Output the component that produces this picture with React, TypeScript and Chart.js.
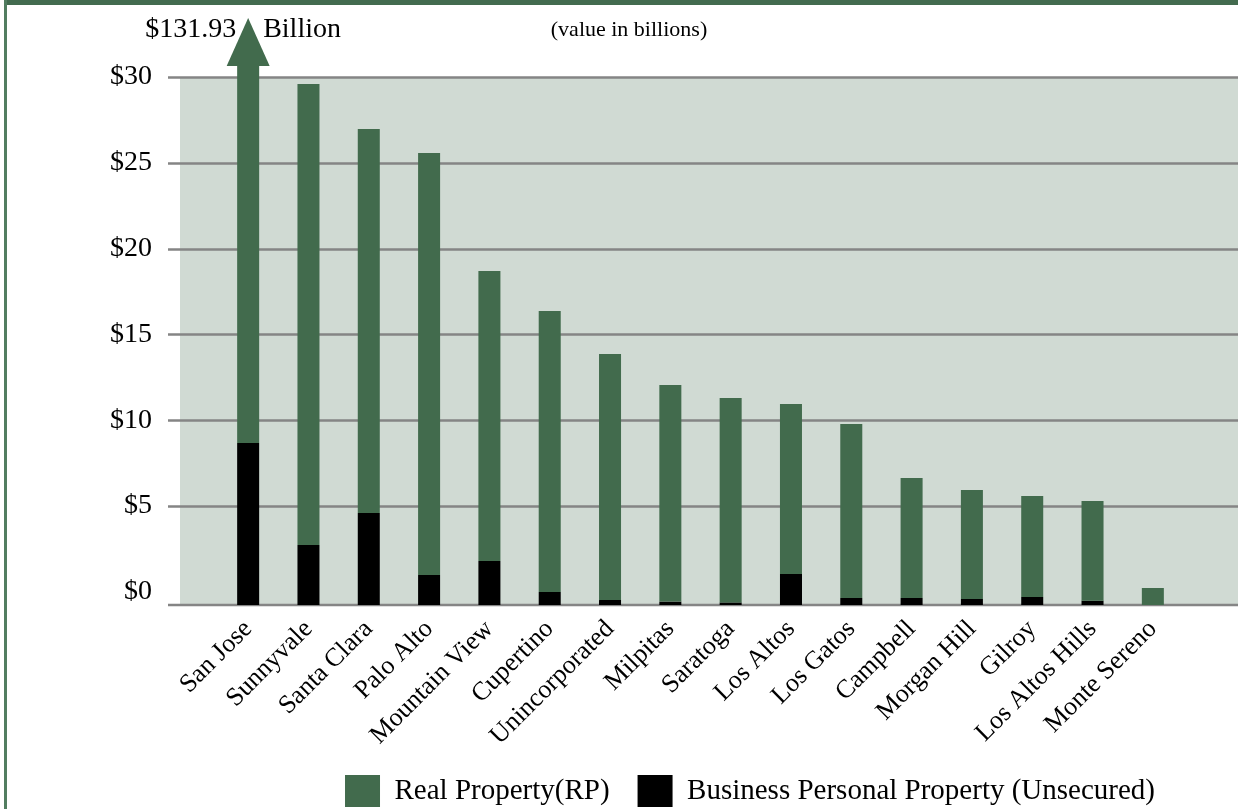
import React, { useEffect, useRef } from 'react';
import { Chart, registerables } from 'chart.js';

Chart.register(...registerables);

// ---- data (values in billions of dollars) ----
const cities = [
  'San Jose', 'Sunnyvale', 'Santa Clara', 'Palo Alto', 'Mountain View', 'Cupertino',
  'Unincorporated', 'Milpitas', 'Saratoga', 'Los Altos', 'Los Gatos', 'Campbell',
  'Morgan Hill', 'Gilroy', 'Los Altos Hills', 'Monte Sereno',
];
const businessPersonal = [
  9.44, 3.5, 5.36, 1.75, 2.56, 0.76, 0.29, 0.2, 0.15, 1.81, 0.41, 0.41, 0.35, 0.47, 0.25, 0,
];
const realProperty = [
  122.49, 26.85, 22.37, 24.58, 16.9, 16.37, 14.33, 12.62, 11.91, 9.9, 10.13, 6.99, 6.35, 5.88, 5.81, 0.99,
];
const yTickValues = [0, 5, 10, 15, 20, 25, 30];
const seriesNames = ['Real Property(RP)', 'Business Personal Property (Unsecured)'];
const overflowLabel = ['$131.93', 'Billion'];
const unitNote = '(value in billions)';
// bars in the original graphic start slightly below the "$0" tick line
const AXIS_FLOOR = -0.76;
const AXIS_MAX = 30;

const GREEN = '#426b4d';
const FONT = '"Liberation Serif", "Times New Roman", serif';

const decorPlugin = {
  id: 'decor',
  beforeDatasetsDraw(chart: any) {
    const { ctx, chartArea, scales, width } = chart;
    const y = scales.y;
    const top = y.getPixelForValue(AXIS_MAX);
    const bottom = y.getPixelForValue(AXIS_FLOOR);
    const bgLeft = chartArea.left - 38;
    ctx.save();
    ctx.fillStyle = '#d0dad3';
    ctx.fillRect(bgLeft, top, width - bgLeft, bottom - top);
    ctx.strokeStyle = '#858585';
    ctx.lineWidth = 2.5;
    yTickValues.forEach((v) => {
      if (v <= 0) return;
      const py = Math.round(y.getPixelForValue(v)) + 0.5;
      ctx.beginPath();
      ctx.moveTo(bgLeft - 12, py);
      ctx.lineTo(width, py);
      ctx.stroke();
    });
    ctx.beginPath();
    ctx.moveTo(bgLeft - 12, bottom);
    ctx.lineTo(width, bottom);
    ctx.stroke();
    ctx.restore();
  },
  afterDatasetsDraw(chart: any) {
    const { ctx, chartArea } = chart;
    const el = chart.getDatasetMeta(0).data[0];
    if (!el) return;
    const cx = el.x;
    const baseY = chartArea.top - 11;
    const tipY = chartArea.top - 59;
    ctx.save();
    ctx.fillStyle = '#000';
    ctx.font = `28px ${FONT}`;
    ctx.textBaseline = 'alphabetic';
    ctx.textAlign = 'right';
    ctx.fillText(overflowLabel[0], cx - 12, chartArea.top - 40);
    ctx.textAlign = 'left';
    ctx.fillText(overflowLabel[1], cx + 15, chartArea.top - 40);
    ctx.fillStyle = GREEN;
    ctx.beginPath();
    ctx.moveTo(cx - 21.5, baseY);
    ctx.lineTo(cx, tipY);
    ctx.lineTo(cx + 21.5, baseY);
    ctx.closePath();
    ctx.fill();
    ctx.fillStyle = '#000';
    ctx.font = `22px ${FONT}`;
    ctx.textAlign = 'center';
    ctx.textBaseline = 'middle';
    ctx.fillText(unitNote, 629, chartArea.top - 47);
    ctx.restore();
  },
};

export default function App() {
  const ref = useRef<HTMLCanvasElement | null>(null);
  useEffect(() => {
    if (!ref.current) return;
    const blackData = businessPersonal.map((b) => (b > 0 ? [AXIS_FLOOR, AXIS_FLOOR + b] : null));
    const greenData = realProperty.map((r, i) => [
      AXIS_FLOOR + businessPersonal[i],
      AXIS_FLOOR + businessPersonal[i] + r,
    ]);
    const chart = new Chart(ref.current, {
      type: 'bar',
      data: {
        labels: cities,
        datasets: [
          {
            label: seriesNames[0],
            data: greenData as any,
            backgroundColor: GREEN,
            borderWidth: 0,
            clip: { left: 5, right: 5, top: 11, bottom: 2 } as any,
          },
          {
            label: seriesNames[1],
            data: blackData as any,
            backgroundColor: '#000000',
            borderWidth: 0,
          },
        ],
      },
      plugins: [decorPlugin],
      options: {
        animation: false,
        responsive: true,
        maintainAspectRatio: false,
        layout: { padding: { top: 77, right: 55, bottom: -8, left: 0 } },
        datasets: { bar: { barPercentage: 0.365, categoryPercentage: 1 } },
        plugins: {
          tooltip: { enabled: false },
          legend: {
            position: 'bottom',
            align: 'end',
            labels: {
              boxWidth: 35,
              boxHeight: 32,
              padding: 28,
              color: '#000',
              font: { family: FONT, size: 29 },
            },
          },
        },
        scales: {
          x: {
            stacked: true,
            grid: { display: false },
            border: { display: false },
            ticks: {
              autoSkip: false,
              minRotation: 45,
              maxRotation: 45,
              padding: 1,
              color: '#000',
              font: { family: FONT, size: 26 },
            },
            afterFit: (scale: any) => {
              scale.height = 142;
            },
          },
          y: {
            min: AXIS_FLOOR,
            max: AXIS_MAX,
            grid: { display: false, drawTicks: false },
            border: { display: false },
            afterBuildTicks: (scale: any) => {
              scale.ticks = yTickValues.map((v) => ({ value: v }));
            },
            ticks: {
              padding: 66,
              color: '#000',
              font: { family: FONT, size: 28 },
              callback: (v: any) => '$' + v,
            },
            afterFit: (scale: any) => {
              scale.width = 218;
              scale.paddingTop = 0;
              scale.paddingBottom = 0;
            },
          },
        },
      },
    });
    return () => chart.destroy();
  }, []);

  return (
    <div style={{ position: 'fixed', left: 0, top: 0, width: 1238, height: 809, background: '#fff' }}>
      <div style={{ position: 'absolute', left: 0, top: 0, width: 1238, height: 809 }}>
        <canvas ref={ref} />
      </div>
      <div style={{ position: 'absolute', left: 4, top: 0, width: 1234, height: 5, background: '#436b4f' }} />
      <div style={{ position: 'absolute', left: 4, top: 0, width: 3, height: 809, background: '#527d60' }} />
    </div>
  );
}
